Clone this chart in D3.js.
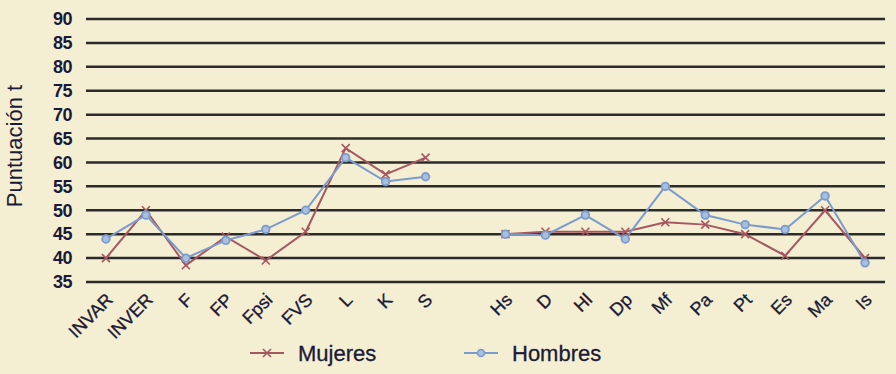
<!DOCTYPE html>
<html>
<head>
<meta charset="utf-8">
<script src="https://cdn.jsdelivr.net/npm/d3@7"></script>
<style>
  body { margin: 0; background: #f4eed2; }
  svg { display: block; }
</style>
</head>
<body>
<div class="chart"></div>
<script>
// Data
const categories = ["INVAR", "INVER", "F", "FP", "Fpsi", "FVS", "L", "K", "S", "",
  "Hs", "D", "Hl", "Dp", "Mf", "Pa", "Pt", "Es", "Ma", "Is"];
const mujeres = [40, 50, 38.5, 44.5, 39.5, 45.5, 63, 57.5, 61, null,
  45, 45.5, 45.5, 45.5, 47.5, 47, 45, 40.5, 50, 40];
const hombres = [44, 49, 40, 43.7, 46, 50, 61, 56, 57, null,
  45, 44.8, 49, 44, 55, 49, 47, 46, 53, 39];
const yTicks = [35, 40, 45, 50, 55, 60, 65, 70, 75, 80, 85, 90];

const width = 896, height = 374;
const margin = { top: 19, right: 11, bottom: 92, left: 86 };

const svg = d3.select(".chart")
    .append("svg")
    .attr("width", width)
    .attr("height", height)
    .style("font-family", "Liberation Sans, Arial, sans-serif");

const x = d3.scalePoint()
    .domain(d3.range(categories.length))
    .range([margin.left, width - margin.right])
    .padding(0.5);
const y = d3.scaleLinear()
    .domain([35, 90])
    .range([height - margin.bottom, margin.top]);

// gridlines
svg.append("g")
    .selectAll("line")
    .data(yTicks)
    .join("line")
    .attr("x1", margin.left)
    .attr("x2", width - margin.right)
    .attr("y1", d => y(d))
    .attr("y2", d => y(d))
    .attr("stroke", "#2b2b2b")
    .attr("stroke-width", 2.5);

// y axis labels
const yAxis = d3.axisLeft(y).tickValues(yTicks).tickSize(0).tickPadding(14);
svg.append("g")
    .attr("transform", `translate(${margin.left},0)`)
    .call(yAxis)
    .call(g => g.select(".domain").remove())
    .selectAll("text")
    .attr("fill", "#1a1a36")
    .style("font-size", "18px")
    .style("letter-spacing", "-0.5px")
    .style("font-weight", "bold");

// x labels
svg.append("g")
    .selectAll("text")
    .data(categories)
    .join("text")
    .attr("text-anchor", "end")
    .attr("transform", (d, i) => `translate(${x(i) - 1},${height - margin.bottom + 10}) rotate(-45)`)
    .attr("dy", "0.7em")
    .attr("fill", "#1a1a36")
    .attr("stroke", "#1a1a36")
    .attr("stroke-width", 0.3)
    .style("font-size", "18px")
    .text(d => d);

// y axis title
svg.append("text")
    .attr("transform", "rotate(-90)")
    .attr("x", -146)
    .attr("y", 22)
    .attr("text-anchor", "middle")
    .attr("fill", "#1a1a36")
    .style("font-size", "22px")
    .text("Puntuación t");

const line = d3.line()
    .defined(d => d != null)
    .x((d, i) => x(i))
    .y(d => y(d));

const redColor = "#a5585f";
const blueColor = "#7b9bcc";

svg.append("path")
    .datum(mujeres)
    .attr("fill", "none")
    .attr("stroke", redColor)
    .attr("stroke-width", 2)
    .attr("d", line);

svg.append("path")
    .datum(hombres)
    .attr("fill", "none")
    .attr("stroke", blueColor)
    .attr("stroke-width", 2)
    .attr("d", line);

const crossPath = s => `M${-s},${-s}L${s},${s}M${-s},${s}L${s},${-s}`;

svg.append("g")
    .selectAll("path")
    .data(mujeres.map((v, i) => [v, i]).filter(d => d[0] != null))
    .join("path")
    .attr("transform", d => `translate(${x(d[1])},${y(d[0])})`)
    .attr("d", crossPath(4))
    .attr("stroke", redColor)
    .attr("stroke-width", 1.6);

svg.append("g")
    .selectAll("circle")
    .data(hombres.map((v, i) => [v, i]).filter(d => d[0] != null))
    .join("circle")
    .attr("cx", d => x(d[1]))
    .attr("cy", d => y(d[0]))
    .attr("r", 3.8)
    .attr("fill", "#a9bfe0")
    .attr("stroke", blueColor)
    .attr("stroke-width", 1.8);

// legend
const legend = [
  { name: "Mujeres", color: redColor, x: 250 },
  { name: "Hombres", color: blueColor, x: 464 }
];
const lg = svg.append("g").selectAll("g").data(legend).join("g")
    .attr("transform", d => `translate(${d.x},353)`);
lg.append("line")
    .attr("x1", 0).attr("x2", 34)
    .attr("stroke", d => d.color)
    .attr("stroke-width", 2);
lg.filter((d, i) => i === 0).append("path")
    .attr("transform", "translate(17,0)")
    .attr("d", crossPath(4))
    .attr("stroke", redColor)
    .attr("stroke-width", 1.6);
lg.filter((d, i) => i === 1).append("circle")
    .attr("cx", 17).attr("r", 3.5)
    .attr("fill", "#a9bfe0")
    .attr("stroke", blueColor)
    .attr("stroke-width", 1.6);
lg.append("text")
    .attr("x", 48)
    .attr("dy", "0.35em")
    .attr("fill", "#1a1a36")
    .attr("stroke", "#1a1a36")
    .attr("stroke-width", 0.3)
    .style("font-size", "22px")
    .text(d => d.name);
</script>
</body>
</html>
